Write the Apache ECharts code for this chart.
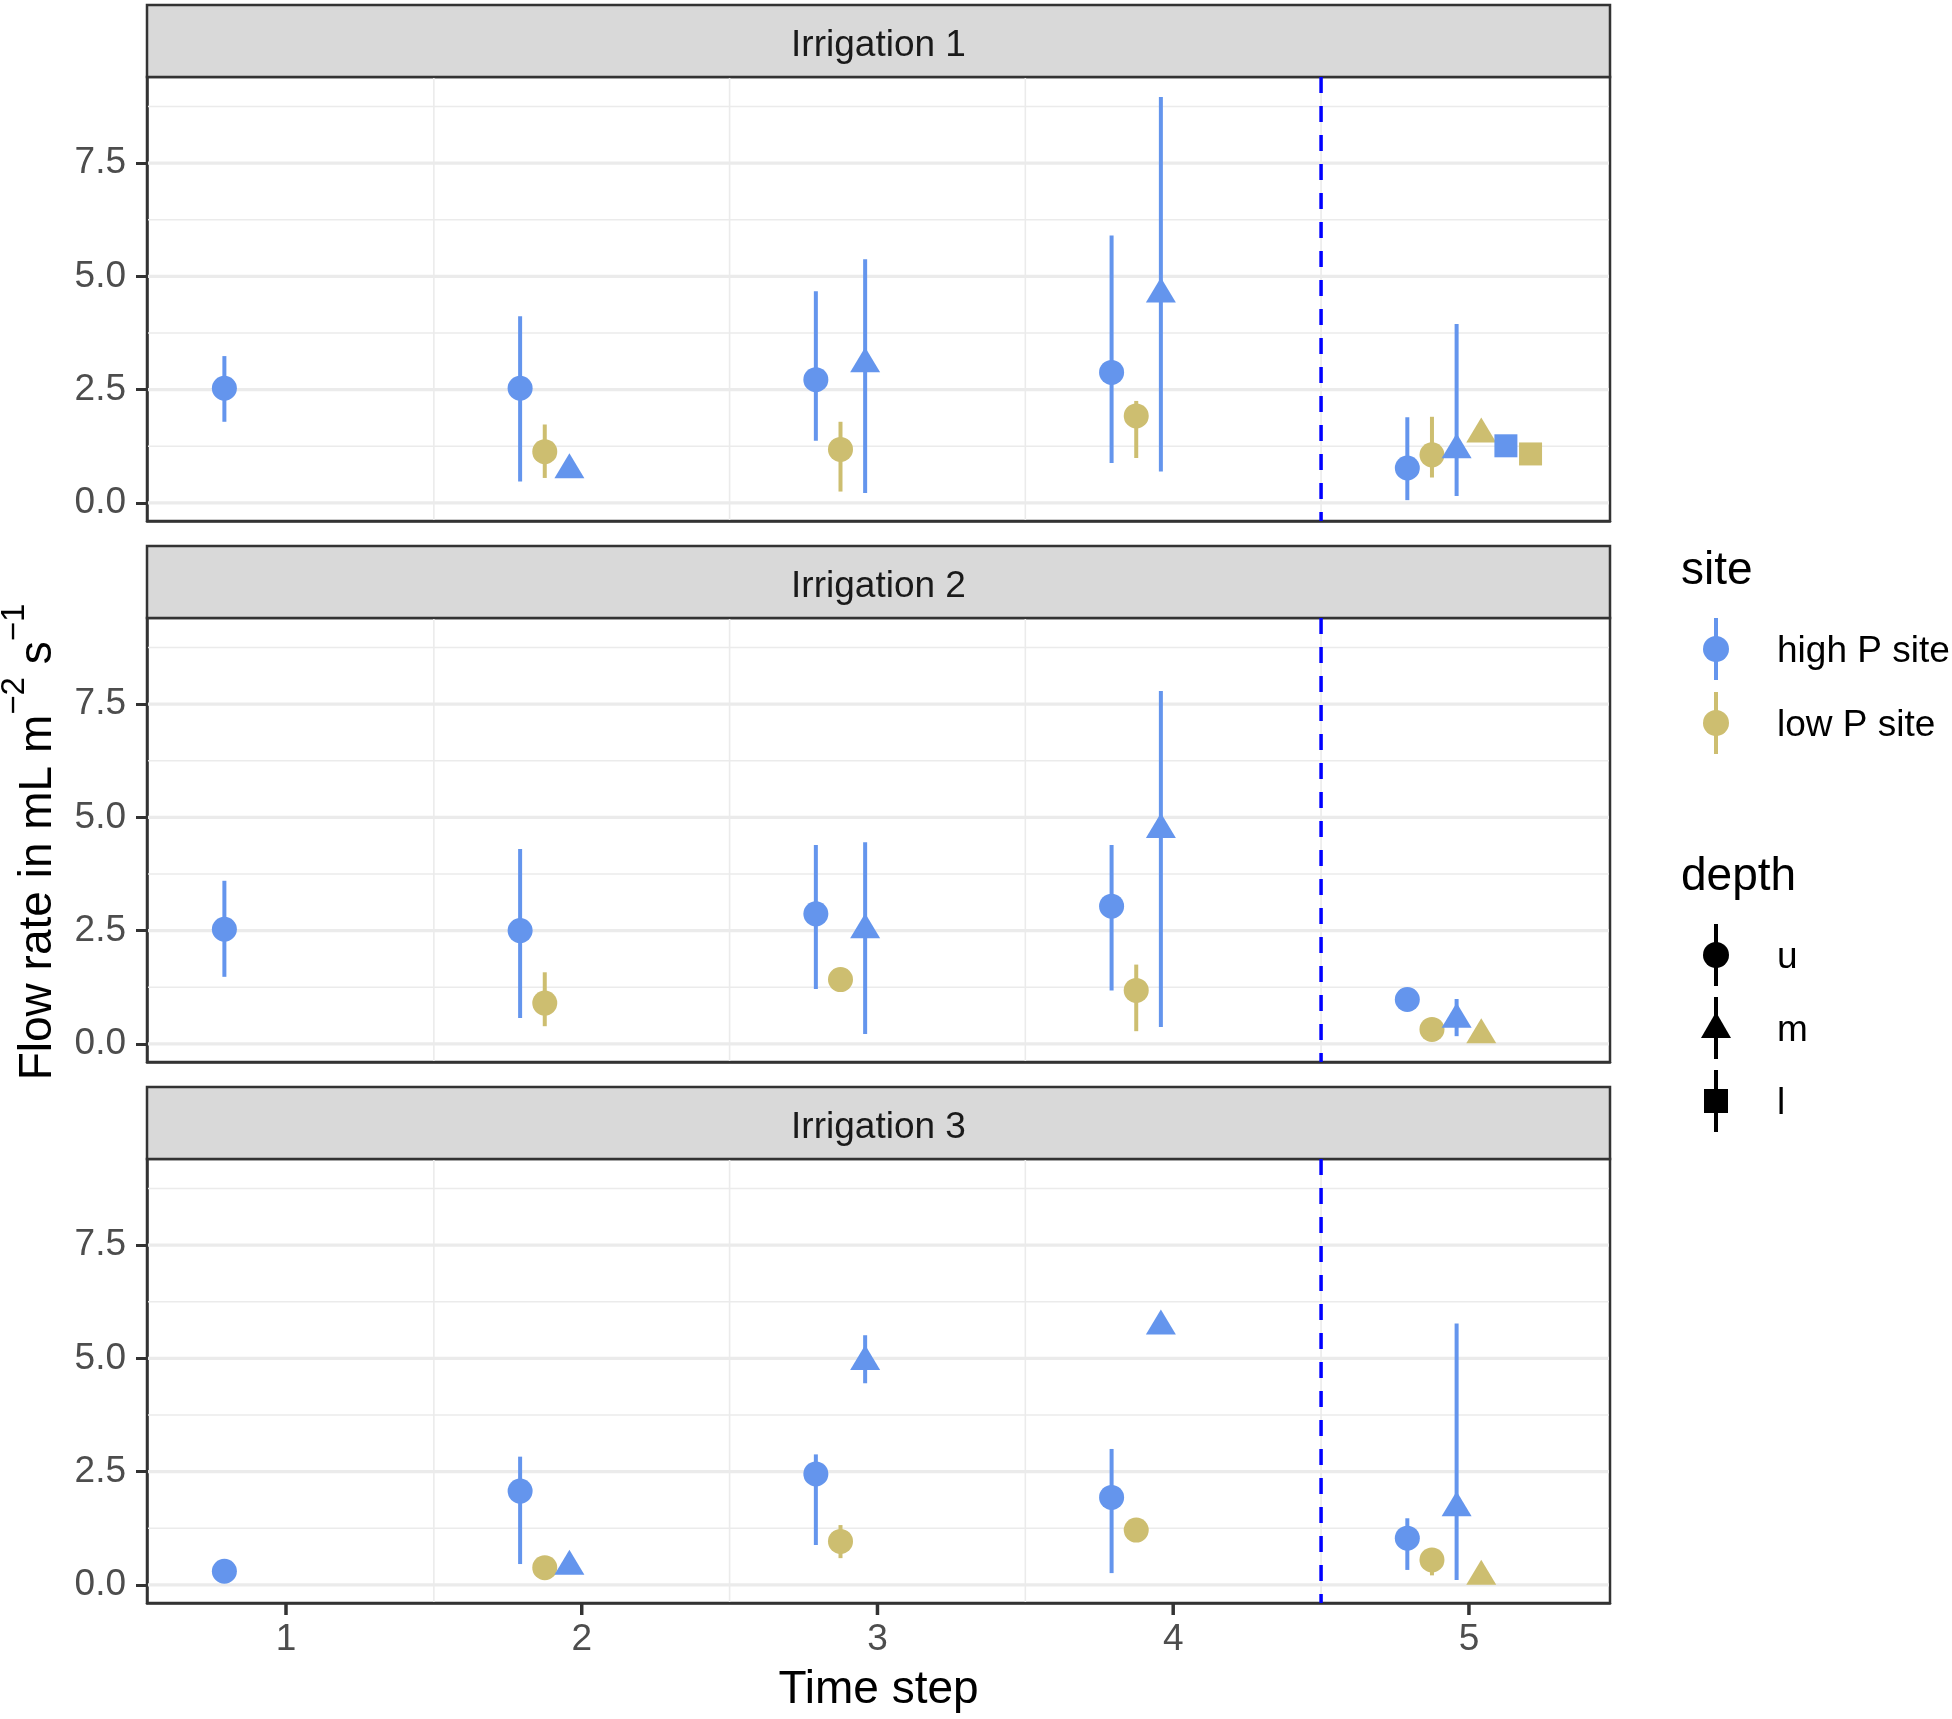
<!DOCTYPE html>
<html>
<head>
<meta charset="utf-8">
<title>Flow rate by time step</title>
<script src="https://cdn.jsdelivr.net/npm/echarts@6/dist/echarts.min.js"></script>
<style>
  html, body { margin: 0; padding: 0; background: #fff; }
  #main { width: 1952px; height: 1719px; }
</style>
</head>
<body>
<div id="main"></div>
<script>
// ---- data ----
var panelTitles = ['Irrigation 1', 'Irrigation 2', 'Irrigation 3'];
var timeSteps = [1, 2, 3, 4, 5];
var sites = ['high P site', 'low P site'];
var depths = ['u', 'm', 'l'];
var yTicks = [0, 2.5, 5, 7.5];
var yMinorTicks = [1.25, 3.75, 6.25, 8.75];
var xMinorTicks = [1.5, 2.5, 3.5, 4.5];
var cutoffStep = 4.5;

// rows: [time step, site index, depth, mean, lower, upper]  (null = no bar drawn)
var irrigation1 = [
  [1, 0, 'u', 2.53, 1.79, 3.24],
  [2, 0, 'u', 2.53, 0.47, 4.12],
  [2, 1, 'u', 1.13, 0.55, 1.73],
  [2, 0, 'm', 0.82, null, null],
  [3, 0, 'u', 2.72, 1.37, 4.67],
  [3, 1, 'u', 1.18, 0.25, 1.79],
  [3, 0, 'm', 3.16, 0.22, 5.38],
  [4, 0, 'u', 2.88, 0.88, 5.90],
  [4, 1, 'u', 1.92, 0.99, 2.25],
  [4, 0, 'm', 4.70, 0.69, 8.96],
  [5, 0, 'u', 0.77, 0.06, 1.89],
  [5, 1, 'u', 1.06, 0.56, 1.90],
  [5, 0, 'm', 1.26, 0.15, 3.95],
  [5, 1, 'm', 1.61, null, null],
  [5, 0, 'l', 1.26, null, null],
  [5, 1, 'l', 1.08, null, null]
];
var irrigation2 = [
  [1, 0, 'u', 2.53, 1.48, 3.60],
  [2, 0, 'u', 2.50, 0.57, 4.30],
  [2, 1, 'u', 0.90, 0.39, 1.58],
  [3, 0, 'u', 2.87, 1.21, 4.39],
  [3, 1, 'u', 1.42, null, null],
  [3, 0, 'm', 2.61, 0.22, 4.45],
  [4, 0, 'u', 3.04, 1.18, 4.39],
  [4, 1, 'u', 1.18, 0.28, 1.75],
  [4, 0, 'm', 4.82, 0.37, 7.79],
  [5, 0, 'u', 0.98, null, null],
  [5, 1, 'u', 0.32, null, null],
  [5, 0, 'm', 0.63, 0.17, 0.99],
  [5, 1, 'm', 0.29, null, null]
];
var irrigation3 = [
  [1, 0, 'u', 0.30, null, null],
  [2, 0, 'u', 2.07, 0.46, 2.83],
  [2, 1, 'u', 0.38, null, null],
  [2, 0, 'm', 0.50, null, null],
  [3, 0, 'u', 2.45, 0.88, 2.88],
  [3, 1, 'u', 0.96, 0.59, 1.32],
  [3, 0, 'm', 5.02, 4.45, 5.51],
  [4, 0, 'u', 1.93, 0.26, 3.00],
  [4, 1, 'u', 1.21, null, null],
  [4, 0, 'm', 5.80, null, null],
  [5, 0, 'u', 1.03, 0.33, 1.47],
  [5, 1, 'u', 0.55, 0.21, 0.81],
  [5, 0, 'm', 1.79, 0.11, 5.77],
  [5, 1, 'm', 0.28, null, null]
];
var panels = [irrigation1, irrigation2, irrigation3];

// ---- style / layout ----
var FONT = '"Liberation Sans", Arial, sans-serif';
var siteColors = ['#6495ED', '#CDBE70'];
var depthSymbols = { u: 'circle', m: 'triangle', l: 'rect' };
var depthSizes = { u: 25, m: [30, 25], l: 23 };
var dodgeWidth = 0.5;
var xMin = 0.53, xMax = 5.477, yMin = -0.4, yMax = 9.4;
var gridLeft = 147, gridRight = 342, gridW = 1952 - 147 - 342;
var stripTop0 = 5, stripH = 72, plotH = 444, panelStep = 541;

function dodgeX(step, site, depth) {
  var n = sites.length * depths.length;
  var idx = depths.indexOf(depth) * sites.length + site;
  return step - dodgeWidth / 2 + dodgeWidth / n * (idx + 0.5);
}

var grids = [], xAxes = [], yAxes = [], series = [], graphics = [];

panels.forEach(function (rows, p) {
  var top = stripTop0 + stripH + p * panelStep;
  var isLast = p === panels.length - 1;
  grids.push({
    left: gridLeft, width: gridW, top: top, height: plotH,
    show: true, borderColor: '#333333', borderWidth: 2.5, backgroundColor: '#fff'
  });
  xAxes.push({
    type: 'value', gridIndex: p, min: xMin, max: xMax, position: 'bottom',
    axisLine: { show: true, onZero: false, lineStyle: { color: '#333333', width: 2.5 } },
    splitLine: { show: false },
    axisTick: { show: false },
    axisLabel: {
      show: isLast, customValues: timeSteps, margin: 18,
      color: '#4D4D4D', fontSize: 37, fontFamily: FONT,
      formatter: function (v) { return String(v); }
    }
  });
  yAxes.push({
    type: 'value', gridIndex: p, min: yMin, max: yMax, position: 'left',
    axisLine: { show: true, onZero: false, lineStyle: { color: '#333333', width: 2.5 } },
    splitLine: { show: false },
    axisTick: { show: true, customValues: yTicks, length: 11, lineStyle: { color: '#333', width: 3 } },
    axisLabel: {
      customValues: yTicks, margin: 21,
      color: '#4D4D4D', fontSize: 37, fontFamily: FONT,
      formatter: function (v) { return v.toFixed(1); }
    }
  });

  // background grid lines
  var gl = [];
  yTicks.forEach(function (v) { gl.push([0, v]); });
  yMinorTicks.forEach(function (v) { gl.push([1, v]); });
  xMinorTicks.forEach(function (v) { gl.push([2, v]); });
  series.push({
    type: 'custom', xAxisIndex: p, yAxisIndex: p, silent: true, z: 1,
    data: gl,
    renderItem: function (params, api) {
      var kind = api.value(0), v = api.value(1);
      var cs = params.coordSys;
      if (kind === 2) {
        var px = api.coord([v, 0])[0];
        return { type: 'line', shape: { x1: px, y1: cs.y + 1, x2: px, y2: cs.y + cs.height - 1 },
          style: { stroke: '#EBEBEB', lineWidth: 1.6 } };
      }
      var py = api.coord([1, v])[1];
      return { type: 'line', shape: { x1: cs.x + 1, y1: py, x2: cs.x + cs.width - 1, y2: py },
        style: { stroke: '#EBEBEB', lineWidth: kind === 0 ? 3.2 : 1.6 } };
    }
  });

  // x tick marks under the bottom panel
  if (isLast) {
    series.push({
      type: 'custom', xAxisIndex: p, yAxisIndex: p, silent: true, z: 5, clip: false,
      data: timeSteps.map(function (t) { return [t, 0]; }),
      renderItem: function (params, api) {
        var cs = params.coordSys;
        var px = api.coord([api.value(0), 0])[0];
        var yb = cs.y + cs.height;
        return { type: 'line', shape: { x1: px, y1: yb, x2: px, y2: yb + 12 },
          style: { stroke: '#333333', lineWidth: 3.5 } };
      }
    });
  }

  // dashed cut-off line
  series.push({
    type: 'custom', xAxisIndex: p, yAxisIndex: p, silent: true, z: 2,
    data: [[cutoffStep, 0]],
    renderItem: function (params, api) {
      var cs = params.coordSys;
      var px = api.coord([api.value(0), 0])[0];
      return { type: 'line', shape: { x1: px, y1: cs.y, x2: px, y2: cs.y + cs.height },
        style: { stroke: '#0000FF', lineWidth: 3.5, lineDash: [16, 13] } };
    }
  });

  // error bars
  var bars = rows.filter(function (r) { return r[4] !== null; }).map(function (r) {
    return [dodgeX(r[0], r[1], r[2]), r[4], r[5], r[1]];
  });
  series.push({
    type: 'custom', xAxisIndex: p, yAxisIndex: p, silent: true, z: 3,
    data: bars,
    renderItem: function (params, api) {
      var a = api.coord([api.value(0), api.value(1)]);
      var b = api.coord([api.value(0), api.value(2)]);
      return { type: 'line', shape: { x1: a[0], y1: a[1], x2: b[0], y2: b[1] },
        style: { stroke: siteColors[api.value(3)], lineWidth: 4 } };
    }
  });

  // points
  series.push({
    type: 'scatter', xAxisIndex: p, yAxisIndex: p, z: 4, silent: true,
    data: rows.map(function (r) {
      return {
        value: [dodgeX(r[0], r[1], r[2]), r[3]],
        symbol: depthSymbols[r[2]],
        symbolSize: depthSizes[r[2]],
        itemStyle: { color: siteColors[r[1]], opacity: 1 }
      };
    })
  });

  // facet strip
  var sTop = stripTop0 + p * panelStep;
  graphics.push({
    type: 'rect', silent: true,
    shape: { x: gridLeft, y: sTop, width: gridW, height: stripH },
    style: { fill: '#D9D9D9', stroke: '#333333', lineWidth: 2.5 }
  });
  graphics.push({
    type: 'text', silent: true,
    style: { text: panelTitles[p], x: gridLeft + gridW / 2, y: sTop + stripH / 2 + 5,
      align: 'center', verticalAlign: 'middle', fontSize: 37, fontFamily: FONT, fill: '#1A1A1A' }
  });
});

// axis titles
graphics.push({
  type: 'text', silent: true,
  style: { text: 'Time step', x: gridLeft + gridW / 2, y: 1690, align: 'center', verticalAlign: 'middle',
    fontSize: 46, fontFamily: FONT, fill: '#000' }
});
graphics.push({
  type: 'text', silent: true, x: 33, y: 842, rotation: Math.PI / 2,
  style: {
    text: '{m|Flow rate in mL m}{s|\u22122}{m| s}{s|\u22121}',
    align: 'center', verticalAlign: 'middle', fill: '#000',
    rich: {
      m: { fontSize: 46, fontFamily: FONT, lineHeight: 56, verticalAlign: 'bottom', fill: '#000' },
      s: { fontSize: 33, fontFamily: FONT, lineHeight: 40, verticalAlign: 'bottom', padding: [0, 0, 30, 0], fill: '#000' }
    }
  }
});

// legends
function legendText(txt, x, y, size) {
  return { type: 'text', silent: true,
    style: { text: txt, x: x, y: y, align: 'left', verticalAlign: 'middle', fontSize: size, fontFamily: FONT, fill: '#000' } };
}
function legendKey(shape, color, cx, cy) {
  var els = [{ type: 'line', silent: true, shape: { x1: cx, y1: cy - 31, x2: cx, y2: cy + 31 },
    style: { stroke: color, lineWidth: 4 } }];
  if (shape === 'circle') {
    els.push({ type: 'circle', silent: true, shape: { cx: cx, cy: cy, r: 13 }, style: { fill: color } });
  } else if (shape === 'triangle') {
    els.push({ type: 'polygon', silent: true,
      shape: { points: [[cx, cy - 16], [cx + 15, cy + 10], [cx - 15, cy + 10]] }, style: { fill: color } });
  } else {
    els.push({ type: 'rect', silent: true, shape: { x: cx - 12, y: cy - 12, width: 24, height: 24 }, style: { fill: color } });
  }
  return els;
}
var legX = 1681, keyX = 1716, txtX = 1777;
graphics.push(legendText('site', legX, 571, 46));
sites.forEach(function (s, i) {
  var cy = 649 + i * 74;
  graphics = graphics.concat(legendKey('circle', siteColors[i], keyX, cy));
  graphics.push(legendText(s, txtX, cy + 3, 37));
});
graphics.push(legendText('depth', legX, 877, 46));
depths.forEach(function (d, i) {
  var cy = 955 + i * 73;
  graphics = graphics.concat(legendKey(depthSymbols[d], '#000', keyX, cy));
  graphics.push(legendText(d, txtX, cy + 3, 37));
});

var chart = echarts.init(document.getElementById('main'));
chart.setOption({
  animation: false,
  backgroundColor: '#fff',
  grid: grids,
  xAxis: xAxes,
  yAxis: yAxes,
  series: series,
  graphic: graphics
});
</script>
</body>
</html>
